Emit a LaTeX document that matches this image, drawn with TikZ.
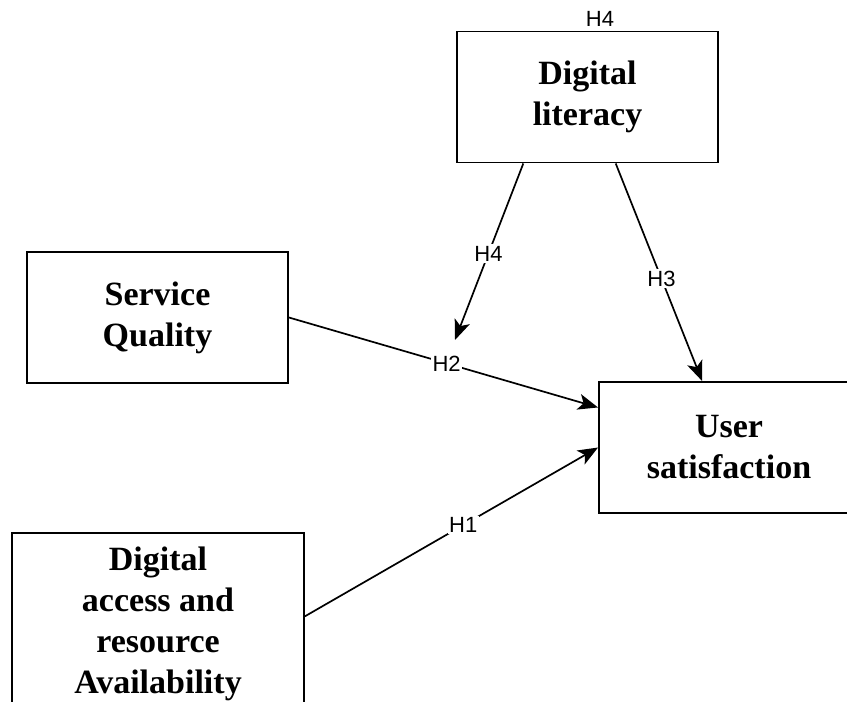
\documentclass[tikz,border=0pt]{standalone}
\usepackage{fontspec}
\setmainfont{Liberation Serif}
\newfontfamily\labfont{Liberation Sans}
\usetikzlibrary{arrows.meta}
\begin{document}
\begin{tikzpicture}[x=1pt,y=-1pt,
  box/.style={draw,line width=1.9pt,align=center,inner sep=0pt,
    font=\fontsize{34}{41}\selectfont\bfseries},
  link/.style={line width=1.7pt,-{Stealth[length=20pt,width=16pt,inset=5pt]}},
  hlab/.style={fill=white,inner sep=1.5pt,font=\labfont\fontsize{22}{26}\selectfont}]
\useasboundingbox (0,0) rectangle (847,702);
\clip (0,0) rectangle (847,702);
\fill[white] (0,0) rectangle (847,702);
\node[box,minimum width=261pt,minimum height=131pt] (DL) at (587.5,97) {Digital\\literacy};
\node[box,minimum width=261pt,minimum height=131pt] (SQ) at (157.5,317.5) {Service\\Quality};
\node[box,minimum width=292pt,minimum height=182pt] (DA) at (158,624) {Digital\\access and\\resource\\Availability};
\node[box,minimum width=260pt,minimum height=131pt] (US) at (729,447.5) {User\\satisfaction};
\node[font=\labfont\fontsize{22}{26}\selectfont,inner sep=0pt] (H4top) at (600,19) {H4};
\coordinate (mod) at (455,340);
\draw[link] (DL.226) -- node[hlab,pos=0.51] (lH4) {H4} (mod);
\draw[link] (DL.293) -- node[hlab,pos=0.53] (lH3) {H3} (US.112);
\draw[link] (SQ.east) -- node[hlab,pos=0.51] (lH2) {H2} (US.163);
\draw[link] (DA.3) -- node[hlab,pos=0.54] (lH1) {H1} (US.west);
\end{tikzpicture}
\end{document}
